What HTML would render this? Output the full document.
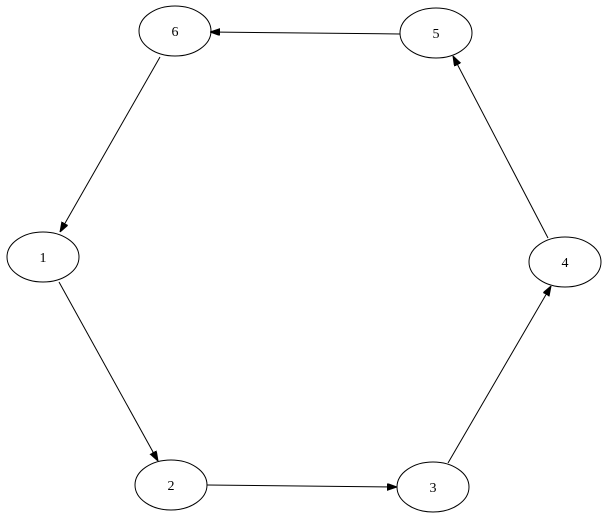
<!DOCTYPE html>
<html><head><meta charset="utf-8"><style>html,body{margin:0;padding:0;background:#fff}</style></head>
<body>
<svg width="608" height="519" viewBox="0 0 608 519" xmlns="http://www.w3.org/2000/svg">
<defs>
<marker id="a" markerWidth="10" markerHeight="8" refX="10" refY="3.5" orient="auto" markerUnits="userSpaceOnUse">
<path d="M0,0 L10,3.5 L0,7 Z" fill="#000" stroke="#000" stroke-width="1"/>
</marker>
</defs>
<g fill="none" stroke="#000" stroke-width="1">
<ellipse cx="175" cy="31" rx="36" ry="25"/>
<ellipse cx="436" cy="33" rx="36" ry="25"/>
<ellipse cx="43" cy="257" rx="36" ry="25"/>
<ellipse cx="565" cy="262" rx="36" ry="25"/>
<ellipse cx="171" cy="485" rx="36" ry="25"/>
<ellipse cx="433" cy="487" rx="36" ry="25"/>
<line x1="160" y1="57" x2="60" y2="232" marker-end="url(#a)"/>
<line x1="400" y1="34" x2="210" y2="32" marker-end="url(#a)"/>
<line x1="548" y1="238" x2="453" y2="56" marker-end="url(#a)"/>
<line x1="59" y1="282" x2="158" y2="461" marker-end="url(#a)"/>
<line x1="207" y1="485" x2="397" y2="487" marker-end="url(#a)"/>
<line x1="448" y1="463" x2="551" y2="286" marker-end="url(#a)"/>
</g>
<g font-family="Liberation Serif, serif" font-size="14" text-anchor="middle" fill="#000">
<text x="175" y="36">6</text>
<text x="436" y="38">5</text>
<text x="43" y="262">1</text>
<text x="565" y="267">4</text>
<text x="171" y="490">2</text>
<text x="433" y="492">3</text>
</g>
</svg>
</body></html>
